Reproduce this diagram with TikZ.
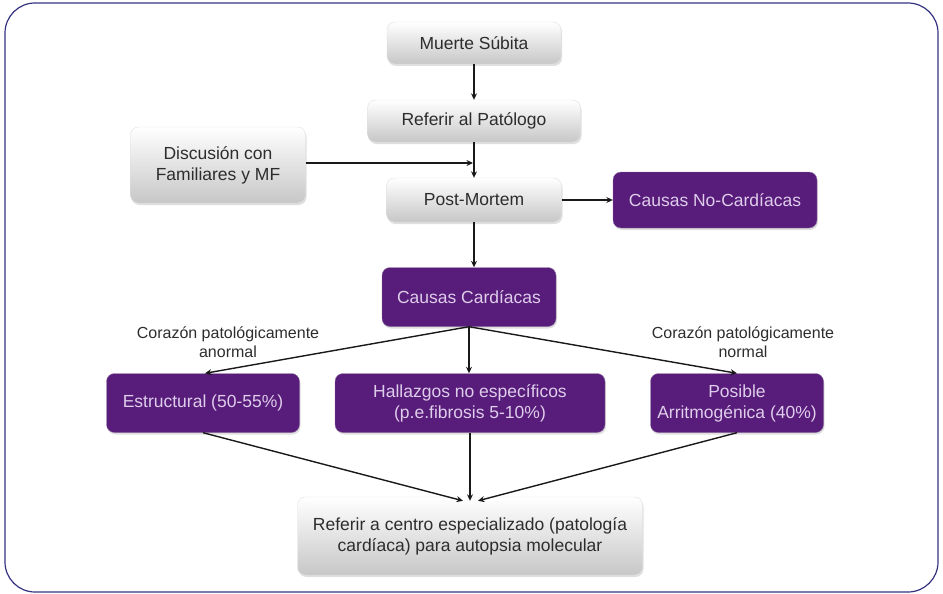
\documentclass[tikz,border=0pt]{standalone}
\usepackage{fontspec}
\setmainfont{Liberation Sans}
\usetikzlibrary{shadows,arrows.meta,calc}
\definecolor{frame}{RGB}{52,50,128}
\definecolor{purp}{RGB}{88,28,122}
\definecolor{ptext}{RGB}{222,205,235}
\definecolor{gtext}{RGB}{45,45,45}
\tikzset{
  box/.style={rounded corners=8pt, align=center, inner sep=1pt,
    font=\fontsize{17.5}{21}\selectfont},
  graybox/.style={box, top color=white, bottom color=black!22, draw=black!12,
    text=gtext, drop shadow={shadow xshift=1pt, shadow yshift=-2pt, opacity=0.25}},
  purpbox/.style={box, fill=purp, draw=purp!80!black!60, text=ptext,
    drop shadow={shadow xshift=1pt, shadow yshift=-2pt, opacity=0.25}},
  arr/.style={-{Stealth[length=6.5pt,width=6pt]}, line width=1.4pt, black!90},
  lab/.style={align=center, text=gtext, font=\fontsize{16}{19}\selectfont}
}
\begin{document}
\begin{tikzpicture}[x=1pt,y=-1pt]
\useasboundingbox (0,0) rectangle (943,594);
\draw[frame, line width=1.2pt, rounded corners=30pt] (5,3) rectangle (938,592);

\node[graybox, minimum width=174pt, minimum height=42pt] (ms) at (474,43) {Muerte Súbita};
\node[graybox, minimum width=213pt, minimum height=42pt] (rp) at (474,121) {Referir al Patólogo};
\node[graybox, minimum width=175pt, minimum height=76pt] (dis) at (218,165) {Discusión con\\Familiares y MF};
\node[graybox, minimum width=175pt, minimum height=44pt] (pm) at (474,200) {Post-Mortem};
\node[purpbox, minimum width=204pt, minimum height=56pt] (nc) at (715,200) {Causas No-Cardíacas};
\node[purpbox, minimum width=174pt, minimum height=59pt] (cc) at (469,297) {Causas Cardíacas};
\node[purpbox, minimum width=193pt, minimum height=59pt] (est) at (203,403) {Estructural (50-55\%)};
\node[purpbox, minimum width=270pt, minimum height=59pt] (hal) at (470,403) {Hallazgos no específicos\\(p.e.fibrosis 5-10\%)};
\node[purpbox, minimum width=173pt, minimum height=59pt] (pos) at (737,403) {Posible\\Arritmogénica (40\%)};
\node[graybox, minimum width=345pt, minimum height=78pt] (bot) at (470,536) {Referir a centro especializado (patología\\cardíaca) para autopsia molecular};

\node[lab] (la) at (228,342) {Corazón patológicamente\\anormal};
\node[lab] (lb) at (743,342) {Corazón patológicamente\\normal};

\draw[arr] (ms.south) -- (rp.south |- rp.north);
\draw[arr] (rp.south) -- (rp.south |- pm.north);
\draw[arr] (dis.east |- 0,163) -- (473,163);
\draw[arr] (pm.east) -- (nc.west);
\draw[arr] (pm.south) -- (pm.south |- cc.north);
\draw[arr] (cc.south) -- ([xshift=2pt]est.north);
\draw[arr] (cc.south) -- (cc.south |- hal.north);
\draw[arr] (cc.south) -- (pos.north);
\coordinate (b1) at ([xshift=-7pt,yshift=-4pt]bot.north);
\coordinate (b2) at ([yshift=-4pt]bot.north);
\coordinate (b3) at ([xshift=8pt,yshift=-4pt]bot.north);
\draw[arr] (est.south) -- (b1);
\draw[arr] (hal.south) -- (b2);
\draw[arr] (pos.south) -- (b3);
\end{tikzpicture}
\end{document}
